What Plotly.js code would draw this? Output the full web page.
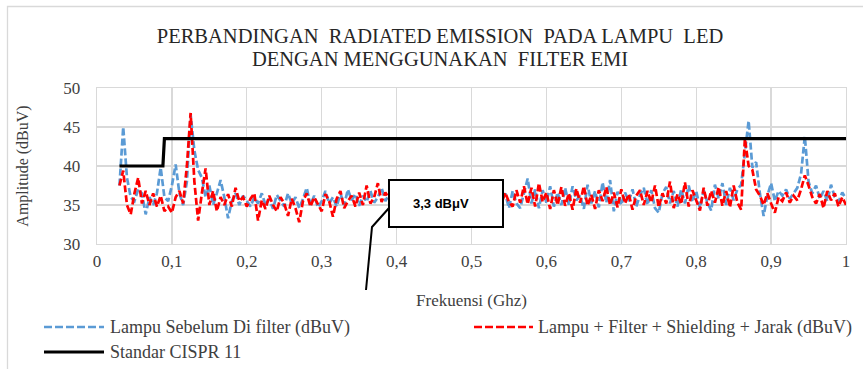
<!DOCTYPE html>
<html>
<head>
<meta charset="utf-8">
<script src="https://cdn.plot.ly/plotly-3.0.1.min.js"></script>
<style>html,body{margin:0;padding:0;background:#fff;}#chart{width:863px;height:369px;}</style>
</head>
<body>
<div id="chart"></div>
<script>
const freqGHz = [
0.030,0.035,0.040,0.045,0.050,0.055,0.060,0.065,0.070,0.075,
0.080,0.085,0.090,0.095,0.100,0.105,0.110,0.115,0.120,0.125,
0.130,0.135,0.140,0.145,0.150,0.155,0.160,0.165,0.170,0.175,
0.180,0.185,0.190,0.195,0.200,0.205,0.210,0.215,0.220,0.225,
0.230,0.235,0.240,0.245,0.250,0.255,0.260,0.265,0.270,0.275,
0.280,0.285,0.290,0.295,0.300,0.305,0.310,0.315,0.320,0.325,
0.330,0.335,0.340,0.345,0.350,0.355,0.360,0.365,0.370,0.375,
0.380,0.385,0.390,0.395,0.400,0.405,0.410,0.415,0.420,0.425,
0.430,0.435,0.440,0.445,0.450,0.455,0.460,0.465,0.470,0.475,
0.480,0.485,0.490,0.495,0.500,0.505,0.510,0.515,0.520,0.525,
0.530,0.535,0.540,0.545,0.550,0.555,0.560,0.565,0.570,0.575,
0.580,0.585,0.590,0.595,0.600,0.605,0.610,0.615,0.620,0.625,
0.630,0.635,0.640,0.645,0.650,0.655,0.660,0.665,0.670,0.675,
0.680,0.685,0.690,0.695,0.700,0.705,0.710,0.715,0.720,0.725,
0.730,0.735,0.740,0.745,0.750,0.755,0.760,0.765,0.770,0.775,
0.780,0.785,0.790,0.795,0.800,0.805,0.810,0.815,0.820,0.825,
0.830,0.835,0.840,0.845,0.850,0.855,0.860,0.865,0.870,0.875,
0.880,0.885,0.890,0.895,0.900,0.905,0.910,0.915,0.920,0.925,
0.930,0.935,0.940,0.945,0.950,0.955,0.960,0.965,0.970,0.975,
0.980,0.985,0.990,0.995,1.000
];

const lampuSebelumFilter = [
37.5,45.0,38.5,36.0,35.5,37.0,36.5,33.8,36.0,35.0,
36.5,39.8,36.0,35.5,37.5,40.2,36.5,35.0,38.0,46.6,
42.0,39.5,38.5,36.0,37.5,35.0,36.5,38.2,36.0,33.3,
35.5,36.5,35.0,36.2,35.5,34.8,36.0,35.2,36.5,35.0,
35.8,34.5,36.3,35.5,34.8,36.5,35.2,36.0,34.6,35.8,
37.2,35.0,36.2,34.7,35.5,36.8,35.2,36.0,34.8,36.5,
35.0,37.0,35.6,36.4,34.9,36.2,35.4,36.8,35.3,36.0,
37.2,35.5,36.4,35.8,36.6,35.2,36.0,36.9,35.4,36.3,
35.6,36.8,35.1,36.4,35.9,36.7,35.3,36.2,35.7,36.5,
35.4,36.9,35.8,36.1,35.2,36.6,35.9,36.3,35.5,36.7,
35.6,36.2,35.3,36.5,34.6,36.8,35.2,34.6,36.5,38.4,
35.2,37.0,34.6,36.9,35.3,37.4,34.8,36.6,35.0,37.2,
35.0,37.4,35.6,36.2,34.5,37.6,35.2,36.8,34.7,37.9,
35.3,38.2,34.2,36.7,35.0,36.6,35.5,37.0,34.8,36.3,
37.2,35.0,36.9,34.6,34.0,36.5,37.3,35.2,36.8,34.8,
37.0,35.2,37.5,35.4,36.8,34.6,36.9,35.3,34.3,37.6,
35.8,37.8,35.0,37.2,35.6,37.0,37.6,42.0,45.8,39.8,
40.5,36.5,33.6,36.2,37.8,35.5,36.8,36.2,37.0,35.8,
36.5,37.2,39.0,43.8,38.0,36.5,37.5,35.8,36.8,35.5,
37.6,36.0,35.4,36.6,35.8
];

const lampuFilterShieldingJarak = [
37.5,39.4,35.0,33.8,36.5,38.5,35.2,36.8,35.0,36.5,
34.8,36.2,34.2,34.8,34.0,36.0,36.8,35.2,40.0,46.8,
38.0,33.0,36.5,39.7,35.0,36.8,34.2,36.0,35.0,36.4,
34.8,37.2,35.5,36.0,34.8,35.8,36.5,33.0,35.6,34.5,
36.2,35.0,34.2,36.0,35.2,33.6,35.8,34.6,32.8,35.5,
36.5,34.8,36.0,35.0,34.2,36.4,35.5,33.5,35.8,36.8,
34.6,35.5,36.2,34.8,36.6,35.0,37.5,35.2,36.0,37.8,
35.4,36.6,35.8,36.2,35.1,36.7,35.5,36.3,35.9,36.0,
35.3,36.5,35.8,36.1,35.4,36.8,35.6,36.0,35.2,36.4,
35.7,36.2,35.0,36.6,35.9,36.1,35.4,36.5,35.8,36.3,
35.5,36.0,35.2,36.6,35.4,34.8,36.9,35.3,37.4,35.1,
37.2,34.8,37.8,35.4,36.6,34.5,36.9,35.0,37.3,34.9,
36.5,34.4,37.1,35.3,37.4,34.9,36.3,34.5,36.9,35.5,
37.3,35.0,36.6,34.7,37.0,35.2,36.4,34.4,36.2,36.9,
35.0,36.8,35.3,37.5,34.7,36.5,35.2,38.0,34.6,36.4,
35.1,37.9,34.8,36.9,35.5,34.3,37.2,34.9,36.8,35.3,
37.3,34.9,36.8,34.7,37.5,35.3,34.4,43.5,40.0,39.5,
37.0,36.2,35.0,36.5,35.2,34.0,36.0,35.5,36.6,35.3,
36.2,35.6,37.0,38.8,37.5,36.0,35.2,36.4,34.6,36.8,
35.6,36.5,34.8,36.0,35.0
];

const standarFreq = [0.03, 0.088, 0.090, 1.0];
const standarCISPR11 = [40, 40, 43.5, 43.5];

const seriesNames = [
  'Lampu Sebelum Di filter (dBuV)',
  'Lampu + Filter + Shielding + Jarak (dBuV)',
  'Standar CISPR 11'
];
const xTicks = [0, 0.1, 0.2, 0.3, 0.4, 0.5, 0.6, 0.7, 0.8, 0.9, 1];
const xTickText = ['0', '0,1', '0,2', '0,3', '0,4', '0,5', '0,6', '0,7', '0,8', '0,9', '1'];
const yTicks = [30, 35, 40, 45, 50];
const calloutText = '3,3 dBμV';

const BLUE = '#5B9BD5', RED = '#FF0000', BLACK = '#000000';
const SERIF = 'Liberation Serif';
const TXT = '#404040';

const L = 97, W = 749, T = 88, H = 156;
const px = v => (v - L) / W;
const py = v => (T + H - v) / H;

const traces = [
  {x: freqGHz, y: lampuSebelumFilter, name: seriesNames[0], type: 'scatter', mode: 'lines',
   line: {color: BLUE, width: 2.7, dash: '7px,3px'}, showlegend: false},
  {x: freqGHz, y: lampuFilterShieldingJarak, name: seriesNames[1], type: 'scatter', mode: 'lines',
   line: {color: RED, width: 2.7, dash: '7px,3px'}, showlegend: false},
  {x: standarFreq, y: standarCISPR11, name: seriesNames[2], type: 'scatter', mode: 'lines',
   line: {color: BLACK, width: 3.2}, showlegend: false}
];

const shapes = [
  {type: 'rect', xref: 'paper', yref: 'paper', x0: px(7.5), x1: px(900), y0: py(420), y1: py(6.5),
   line: {color: '#d9d9d9', width: 1.3}, fillcolor: 'rgba(0,0,0,0)', layer: 'below'},
  {type: 'rect', xref: 'paper', yref: 'paper', x0: px(389), x1: px(503), y0: py(227), y1: py(180),
   line: {color: BLACK, width: 2}, fillcolor: '#ffffff', layer: 'above'},
  {type: 'path', xref: 'paper', yref: 'paper',
   path: `M${px(389)},${py(208)} L${px(372)},${py(227)} L${px(366)},${py(290)}`,
   line: {color: BLACK, width: 2}, layer: 'above'},
  {type: 'line', xref: 'paper', yref: 'paper', x0: px(44), x1: px(104), y0: py(327), y1: py(327),
   line: {color: BLUE, width: 2.7, dash: '8px,3px'}},
  {type: 'line', xref: 'paper', yref: 'paper', x0: px(474), x1: px(533), y0: py(327), y1: py(327),
   line: {color: RED, width: 2.7, dash: '8px,3px'}},
  {type: 'line', xref: 'paper', yref: 'paper', x0: px(44), x1: px(104), y0: py(352), y1: py(352),
   line: {color: BLACK, width: 3.2}}
];

const legFont = {family: SERIF, size: 18, color: TXT};
const annotations = [
  {xref: 'paper', yref: 'paper', x: px(441), y: py(203), text: '<b>' + calloutText + '</b>', showarrow: false,
   xanchor: 'center', yanchor: 'middle', font: {family: 'Liberation Sans', size: 13, color: '#000'}},
  {xref: 'paper', yref: 'paper', x: px(108), y: py(327), text: seriesNames[0], showarrow: false,
   xanchor: 'left', yanchor: 'middle', font: legFont},
  {xref: 'paper', yref: 'paper', x: px(536), y: py(327), text: seriesNames[1], showarrow: false,
   xanchor: 'left', yanchor: 'middle', font: legFont},
  {xref: 'paper', yref: 'paper', x: px(108), y: py(352), text: seriesNames[2], showarrow: false,
   xanchor: 'left', yanchor: 'middle', font: legFont}
];

const layout = {
  width: 863, height: 369,
  margin: {l: L, r: 863 - L - W, t: T, b: 369 - T - H, pad: 0},
  paper_bgcolor: '#ffffff', plot_bgcolor: '#ffffff',
  showlegend: false,
  separators: ',.',
  title: {text: 'PERBANDINGAN  RADIATED EMISSION  PADA LAMPU  LED<br>DENGAN MENGGUNAKAN  FILTER EMI',
          font: {family: SERIF, size: 20.5, color: '#262626'},
          x: 440 / 863, xanchor: 'center', y: 1 - 43 / 369, yanchor: 'middle', yref: 'container'},
  xaxis: {range: [0, 1], tickvals: xTicks, ticktext: xTickText, showgrid: true, gridcolor: '#d9d9d9', gridwidth: 1.3,
          zeroline: false, showline: true, linecolor: '#d9d9d9', linewidth: 1.3, mirror: true, ticks: '',
          ticklabelstandoff: 1, tickfont: {family: SERIF, size: 17, color: TXT},
          title: {text: 'Frekuensi (Ghz)', font: {family: SERIF, size: 17, color: TXT}, standoff: 24},
          automargin: false, fixedrange: true},
  yaxis: {range: [30, 50], tickvals: yTicks, showgrid: true, gridcolor: '#d9d9d9', gridwidth: 1.3,
          zeroline: false, showline: true, linecolor: '#d9d9d9', linewidth: 1.3, mirror: true, ticks: '',
          ticklabelstandoff: 12, tickfont: {family: SERIF, size: 17, color: TXT},
          title: {text: 'Amplitude (dBuV)', font: {family: SERIF, size: 16, color: TXT}, standoff: 30},
          automargin: false, fixedrange: true},
  shapes: shapes,
  annotations: annotations
};

Plotly.newPlot('chart', traces, layout, {displayModeBar: false, staticPlot: true}).then(gd => {
  // tighten title line spacing toward the reference
  const t = gd.querySelector('.gtitle');
  if (t) {
    const lines = t.querySelectorAll('tspan.line');
    lines.forEach((ln, i) => { ln.setAttribute('dy', i > 0 ? '23px' : '0'); });
    t.setAttribute('y', 30.5);
    t.removeAttribute('transform');
  }
});
</script>
</body>
</html>
